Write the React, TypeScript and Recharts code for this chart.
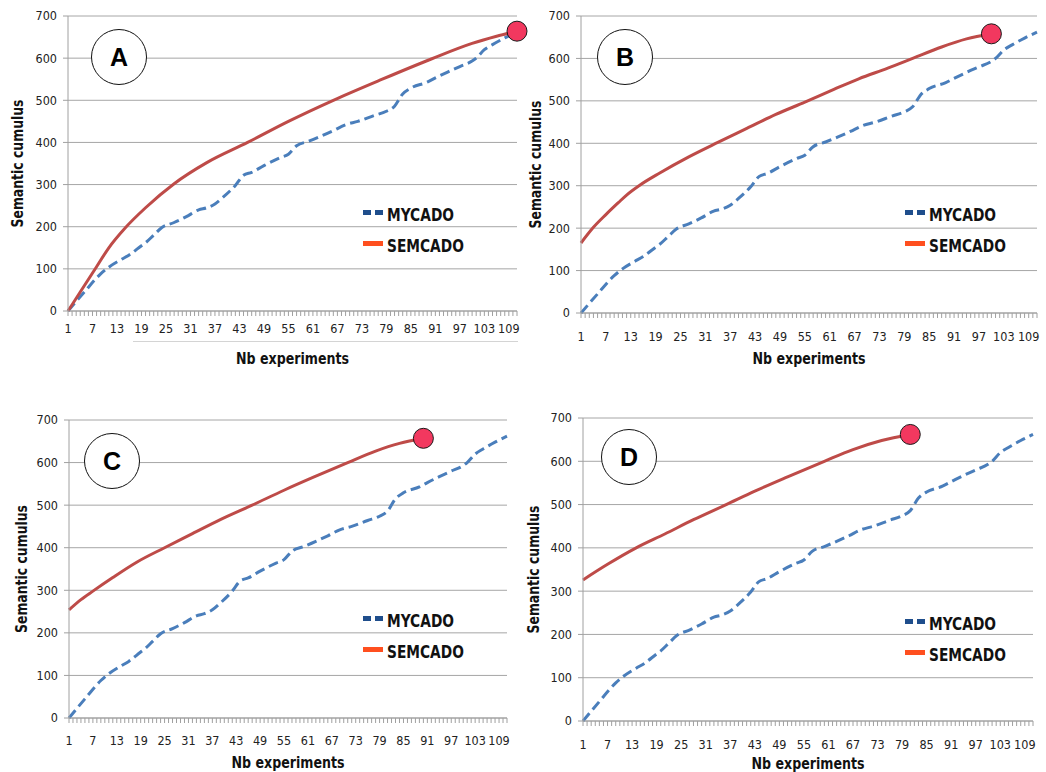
import React from 'react';
import { LineChart, Line, XAxis, YAxis, CartesianGrid, Legend, Label } from 'recharts';

const FONT = "'Liberation Sans Narrow', 'DejaVu Sans Condensed', 'Liberation Sans', sans-serif";

// Category axis (Nb experiments)
const categoryCount = 111;
const labeledTicks = [1, 7, 13, 19, 25, 31, 37, 43, 49, 55, 61, 67, 73, 79, 85, 91, 97, 103, 109];
const yTicks = [0, 100, 200, 300, 400, 500, 600, 700];

// MYCADO (same in all panels)
const mycadoX = [1, 5, 9, 11, 14, 16, 19, 20, 22, 24, 27, 30, 33, 35, 37, 39, 42, 44, 46, 49, 53, 55, 57, 60, 63, 66, 69, 72, 76, 79, 81, 83, 85, 89, 91, 94, 97, 100, 101, 103, 105, 108, 111];
const mycadoY = [0, 45, 88, 104, 122, 133, 155, 162, 180, 198, 210, 224, 240, 245, 254, 270, 298, 322, 329, 345, 364, 372, 392, 403, 415, 428, 442, 450, 464, 474, 486, 515, 529, 543, 553, 567, 580, 593, 600, 620, 632, 648, 662];

// SEMCADO per panel
const semA_X = [1, 4, 8, 11, 15, 20, 27, 35, 45, 55, 66, 78, 90, 100, 106, 111];
const semA_Y = [0, 45, 105, 150, 197, 245, 302, 352, 400, 450, 500, 550, 598, 635, 652, 664];
const semB_X = [1, 4, 7, 10, 12, 15, 20, 27, 34, 41, 48, 55, 62, 68, 75, 81, 88, 94, 100];
const semB_Y = [165, 202, 232, 260, 278, 300, 330, 368, 402, 435, 468, 497, 527, 552, 577, 600, 627, 646, 658];
const semC_X = [1, 4, 7, 12, 18, 25, 32, 39, 47, 55, 63, 71, 78, 84, 90];
const semC_Y = [254, 278, 298, 330, 366, 400, 433, 466, 500, 535, 568, 600, 627, 645, 657];
const semD_X = [1, 7, 14, 21, 28, 36, 43, 51, 60, 67, 74, 81];
const semD_Y = [326, 362, 400, 432, 465, 500, 531, 564, 600, 627, 648, 662];

const panelLetters = ['A', 'B', 'C', 'D'];

const minorTicks = Array.from({ length: categoryCount }, (_, i) => i + 1);

const legendSwatch: Record<string, { color: string; dashed: boolean }> = {
  MYCADO: { color: '#1f4e8c', dashed: true },
  SEMCADO: { color: '#ff4f1f', dashed: false },
};

type Cfg = {
  L: number; R: number; T: number; B: number;
  xTickDy: number; xTitleDy: number; yTitleDx: number;
  legX: number; legY: number;
  circX: number; circY: number;
  semX: number[]; semY: number[];
  letter: string;
};

const panels: Cfg[] = [
  { L: 68, R: 517, T: 16, B: 311, xTickDy: 17, xTitleDy: 47, yTitleDx: 51, legX: 363, legY: 199, circX: 119, circY: 57, semX: semA_X, semY: semA_Y, letter: panelLetters[0] },
  { L: 581, R: 1037, T: 16, B: 313, xTickDy: 23, xTitleDy: 45, yTitleDx: 46, legX: 905, legY: 199, circX: 625, circY: 57, semX: semB_X, semY: semB_Y, letter: panelLetters[1] },
  { L: 69, R: 507, T: 420, B: 718, xTickDy: 22, xTitleDy: 44, yTitleDx: 48, legX: 363, legY: 605, circX: 112, circY: 461, semX: semC_X, semY: semC_Y, letter: panelLetters[2] },
  { L: 583, R: 1033, T: 418, B: 721, xTickDy: 23, xTitleDy: 42, yTitleDx: 50, legX: 905, legY: 608, circX: 629, circY: 457, semX: semD_X, semY: semD_Y, letter: panelLetters[3] },
];

function XTick(props: any) {
  const { x, y, payload, dyc } = props;
  const v = payload.value;
  if (!labeledTicks.includes(v)) return <g />;
  // y = axis line + tickSize(5)
  return (
    <text x={x} y={y - 5 + dyc} textAnchor="middle" dominantBaseline="central" fontSize={12.5} fill="#222" fontFamily={FONT}>
      {v}
    </text>
  );
}

function LegendContent(props: any) {
  const payload = props.payload || [];
  return (
    <div style={{ fontFamily: FONT }}>
      {payload.map((entry: any) => {
        const sw = legendSwatch[entry.value] || { color: entry.color, dashed: false };
        return (
          <div key={entry.value} style={{ height: 31, display: 'flex', alignItems: 'center', whiteSpace: 'nowrap' }}>
            {sw.dashed ? (
              <div style={{ display: 'flex', width: 20, marginTop: -4 }}>
                <div style={{ width: 8, height: 5, background: sw.color }} />
                <div style={{ width: 4 }} />
                <div style={{ width: 8, height: 5, background: sw.color }} />
              </div>
            ) : (
              <div style={{ width: 20, height: 5, background: sw.color, marginTop: -4 }} />
            )}
            <span
              style={{
                display: 'inline-block',
                marginLeft: 4,
                fontSize: 18,
                fontWeight: 'bold',
                color: '#111',
                lineHeight: 1,
                transform: 'scaleX(0.85)',
                transformOrigin: 'left center',
              }}
            >
              {entry.value}
            </span>
          </div>
        );
      })}
    </div>
  );
}

function Panel({ cfg }: { cfg: Cfg }) {
  const boxLeft = cfg.L - 68;
  const boxTop = cfg.T - 16;
  const width = cfg.R + 12 - boxLeft;
  const height = cfg.B + 60 - boxTop;
  const myc = mycadoX.map((x, i) => ({ x, y: mycadoY[i] }));
  const sem = cfg.semX.map((x, i) => ({ x, y: cfg.semY[i] }));
  const last = sem.length - 1;
  return (
    <div style={{ position: 'absolute', left: boxLeft, top: boxTop, width, height }}>
      <LineChart width={width} height={height} margin={{ top: 16, right: 12, bottom: 30, left: 8 }}>
        <CartesianGrid vertical={false} stroke="#a6a6a6" strokeWidth={1} />
        <XAxis
          type="number"
          dataKey="x"
          domain={[1, categoryCount]}
          ticks={minorTicks}
          interval={0}
          tickSize={5}
          tickMargin={0}
          height={30}
          stroke="#a0a0a0"
          tickLine={{ stroke: '#a0a0a0' }}
          tick={(p: any) => <XTick {...p} dyc={cfg.xTickDy} />}
        >
          <Label
            content={(p: any) => {
              const vb = p.viewBox;
              return (
                <text x={vb.x + vb.width / 2} y={vb.y + cfg.xTitleDy} textAnchor="middle" dominantBaseline="central" fontSize={16} fontWeight="bold" fill="#111" fontFamily={FONT} textLength={113} lengthAdjust="spacingAndGlyphs">
                  Nb experiments
                </text>
              );
            }}
          />
        </XAxis>
        <YAxis
          type="number"
          domain={[0, 700]}
          ticks={yTicks}
          width={60}
          tickSize={5}
          tickMargin={6}
          stroke="#a0a0a0"
          tickLine={{ stroke: '#a0a0a0' }}
          tick={{ fontSize: 12.5, fill: '#222', fontFamily: FONT }}
        >
          <Label
            content={(p: any) => {
              const vb = p.viewBox;
              const cx = vb.x + vb.width - cfg.yTitleDx;
              const cy = vb.y + vb.height / 2;
              return (
                <text x={cx} y={cy} transform={`rotate(-90 ${cx} ${cy})`} textAnchor="middle" dominantBaseline="central" fontSize={16} fontWeight="bold" fill="#111" fontFamily={FONT} textLength={128} lengthAdjust="spacingAndGlyphs">
                  Semantic cumulus
                </text>
              );
            }}
          />
        </YAxis>
        <Legend
          layout="vertical"
          align="center"
          verticalAlign="middle"
          wrapperStyle={{ left: cfg.legX - boxLeft, top: cfg.legY - boxTop, width: 140, height: 64 }}
          content={LegendContent}
        />
        <Line
          data={myc}
          dataKey="y"
          name="MYCADO"
          type="monotone"
          stroke="#4a7ebb"
          strokeWidth={3}
          strokeDasharray="10 5"
          dot={false}
          activeDot={false}
          isAnimationActive={false}
        />
        <Line
          data={sem}
          dataKey="y"
          name="SEMCADO"
          type="monotone"
          stroke="#be4b48"
          strokeWidth={3}
          dot={(p: any) =>
            p.index === last ? (
              <circle key={`end-${p.index}`} cx={p.cx} cy={p.cy} r={10} fill="#f2385f" stroke="#1a1a1a" strokeWidth={1} />
            ) : (
              <g key={`d-${p.index}`} />
            )
          }
          activeDot={false}
          isAnimationActive={false}
        />
      </LineChart>
    </div>
  );
}

export default function App() {
  return (
    <div style={{ position: 'absolute', left: 0, top: 0, width: 1046, height: 772, background: '#fff', overflow: 'hidden' }}>
      {panels.map((cfg) => (
        <Panel key={cfg.letter} cfg={cfg} />
      ))}
      <div style={{ position: 'absolute', left: 133, top: 341, width: 385, height: 1, background: '#d4d4d4' }} />
      {panels.map((cfg) => (
        <div
          key={'c' + cfg.letter}
          style={{
            position: 'absolute',
            left: cfg.circX - 28,
            top: cfg.circY - 28,
            width: 56,
            height: 56,
            boxSizing: 'border-box',
            border: '1px solid #111',
            borderRadius: '50%',
            background: '#fff',
            display: 'flex',
            alignItems: 'center',
            justifyContent: 'center',
            fontFamily: "'Liberation Sans', Arial, sans-serif",
            fontWeight: 'bold',
            fontSize: 25,
            color: '#000',
          }}
        >
          {cfg.letter}
        </div>
      ))}
    </div>
  );
}
